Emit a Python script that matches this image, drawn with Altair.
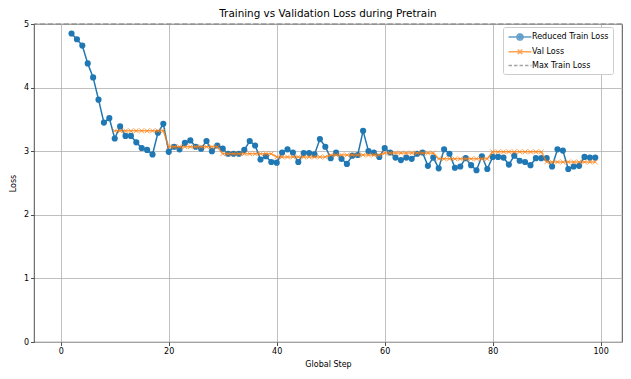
import altair as alt
import pandas as pd

series_names = ["Reduced Train Loss", "Val Loss", "Max Train Loss"]
series_colors = ["#1f77b4", "#ff7f0e", "#808080"]

train_steps = list(range(2, 100))
train_loss = [
    4.85, 4.76, 4.66, 4.38, 4.16, 3.81, 3.45, 3.52,
    3.20, 3.39, 3.24, 3.24, 3.14, 3.05, 3.02, 2.95, 3.29, 3.43,
    2.99, 3.07, 3.03, 3.13, 3.17, 3.07, 3.04, 3.16, 3.00, 3.09,
    3.04, 2.96, 2.96, 2.96, 3.02, 3.16, 3.09, 2.87, 2.92, 2.83,
    2.82, 2.98, 3.03, 2.98, 2.83, 2.97, 2.97, 2.95, 3.19, 3.07,
    2.89, 2.98, 2.88, 2.80, 2.93, 2.94, 3.32, 3.00, 2.98, 2.91,
    3.05, 2.98, 2.90, 2.86, 2.90, 2.88, 2.96, 2.98, 2.77, 2.90,
    2.73, 3.03, 2.96, 2.74, 2.76, 2.89, 2.78, 2.70, 2.92, 2.72,
    2.91, 2.91, 2.90, 2.79, 2.93, 2.85, 2.83, 2.78, 2.89, 2.89,
    2.89, 2.76, 3.03, 3.01, 2.72, 2.76, 2.77, 2.91, 2.90, 2.90,
]

val_steps = list(range(10, 100))
val_loss = [
    3.32, 3.32, 3.32, 3.32, 3.32, 3.32, 3.32, 3.32, 3.32, 3.32,
    3.07, 3.07, 3.07, 3.07, 3.07, 3.07, 3.07, 3.07, 3.07, 3.07,
    2.96, 2.96, 2.96, 2.96, 2.96, 2.96, 2.96, 2.96, 2.96, 2.96,
    2.91, 2.91, 2.91, 2.91, 2.91, 2.91, 2.91, 2.91, 2.91, 2.91,
    2.94, 2.94, 2.94, 2.94, 2.94, 2.94, 2.94, 2.94, 2.94, 2.94,
    2.97, 2.97, 2.97, 2.97, 2.97, 2.97, 2.97, 2.97, 2.97, 2.97,
    2.88, 2.88, 2.88, 2.88, 2.88, 2.88, 2.88, 2.88, 2.88, 2.88,
    2.99, 2.99, 2.99, 2.99, 2.99, 2.99, 2.99, 2.99, 2.99, 2.99,
    2.83, 2.83, 2.83, 2.83, 2.83, 2.83, 2.83, 2.83, 2.83, 2.83,
]

max_train_loss = [5.0]

x_ticks = [0, 20, 40, 60, 80, 100]
y_ticks = [0, 1, 2, 3, 4, 5]

train_df = pd.DataFrame({"step": train_steps, "loss": train_loss})
val_df = pd.DataFrame({"step": val_steps, "loss": val_loss})
max_df = pd.DataFrame({"loss": max_train_loss})
legend_df = pd.DataFrame({"series": series_names})

# legend glyphs: line segment + marker (paths in symbol units)
train_sym = ("M-2.3,0H2.3"
             "M-0.62,0A0.62,0.62 0 1,0 0.62,0A0.62,0.62 0 1,0 -0.62,0"
             "M-0.3,0A0.3,0.3 0 1,0 0.3,0A0.3,0.3 0 1,0 -0.3,0")
val_sym = "M-2.3,0H2.3M-0.45,-0.45L0.45,0.45M-0.45,0.45L0.45,-0.45"
max_sym = "M-2.3,0H2.3"

legend = alt.Legend(
    title=None,
    orient="none",
    legendX=469,
    legendY=3,
    fillColor="white",
    strokeColor="#cccccc",
    padding=4,
    cornerRadius=2,
    labelFontSize=8,
    labelFont="DejaVu Sans",
    labelColor="black",
    symbolSize=100,
    symbolStrokeWidth=1.5,
    symbolOffset=7,
    labelOffset=6,
    rowPadding=1.8,
)

x_enc = alt.X(
    "step:Q",
    scale=alt.Scale(domain=[-4.95, 103.95], nice=False, zero=False),
    axis=alt.Axis(values=x_ticks, title="Global Step", format="d"),
)
y_enc = alt.Y(
    "loss:Q",
    scale=alt.Scale(domain=[0, 5], nice=False),
    axis=alt.Axis(values=y_ticks, title="Loss", format="d"),
)

train_line = alt.Chart(train_df).mark_line(strokeWidth=1.5, color=series_colors[0], clip=True).encode(x=x_enc, y=y_enc)
train_pts = alt.Chart(train_df).mark_point(
    shape="circle", filled=True, size=38, opacity=1, color=series_colors[0], clip=True
).encode(x=x_enc, y=y_enc)
val_line = alt.Chart(val_df).mark_line(strokeWidth=1.5, opacity=0.75, color=series_colors[1], clip=True).encode(
    x=x_enc, y=y_enc
)
val_pts = alt.Chart(val_df).mark_point(
    shape="M-1,-1L1,1M-1,1L1,-1", filled=False, size=22, strokeWidth=1, opacity=0.75,
    color=series_colors[1], clip=True
).encode(x=x_enc, y=y_enc)
max_rule = alt.Chart(max_df).mark_rule(
    strokeDash=[5.5, 2.4], strokeWidth=1.2, color=series_colors[2]
).encode(y=y_enc)

legend_layer = (
    alt.Chart(legend_df)
    .transform_filter("false")
    .mark_point(filled=False, size=100, strokeWidth=1.5)
    .encode(
        color=alt.Color("series:N", scale=alt.Scale(domain=series_names, range=series_colors), legend=legend),
        shape=alt.Shape(
            "series:N",
            scale=alt.Scale(domain=series_names, range=[train_sym, val_sym, max_sym]),
            legend=legend,
        ),
        strokeDash=alt.StrokeDash(
            "series:N",
            scale=alt.Scale(domain=series_names, range=[[1, 0], [1, 0], [3.5, 2]]),
            legend=legend,
        ),
    )
)

chart = (
    alt.layer(train_line, train_pts, val_line, val_pts, max_rule, legend_layer)
    .properties(
        width=588,
        height=318,
        autosize=alt.AutoSizeParams(type="none"),
        padding={"left": 26, "top": 16, "right": 1, "bottom": 29},
        title=alt.TitleParams(
            "Training vs Validation Loss during Pretrain",
            fontSize=10.4,
            fontWeight="normal",
            font="DejaVu Sans",
            color="black",
            offset=1,
        ),
    )
    .configure(font="DejaVu Sans")
    .configure_view(stroke="#222222", strokeWidth=0.8)
    .configure_axis(
        domain=False,
        tickColor="#222222",
        tickSize=3.5,
        tickWidth=0.8,
        labelFontSize=8,
        labelColor="black",
        labelPadding=2,
        titleFontSize=8,
        titleFontWeight="normal",
        titleColor="black",
        gridColor="#b0b0b0",
        gridWidth=0.8,
    )
    .configure_axisX(titlePadding=5)
    .configure_axisY(titlePadding=6)
)

chart.save("out.html", embed_options={"renderer": "svg", "actions": False})
